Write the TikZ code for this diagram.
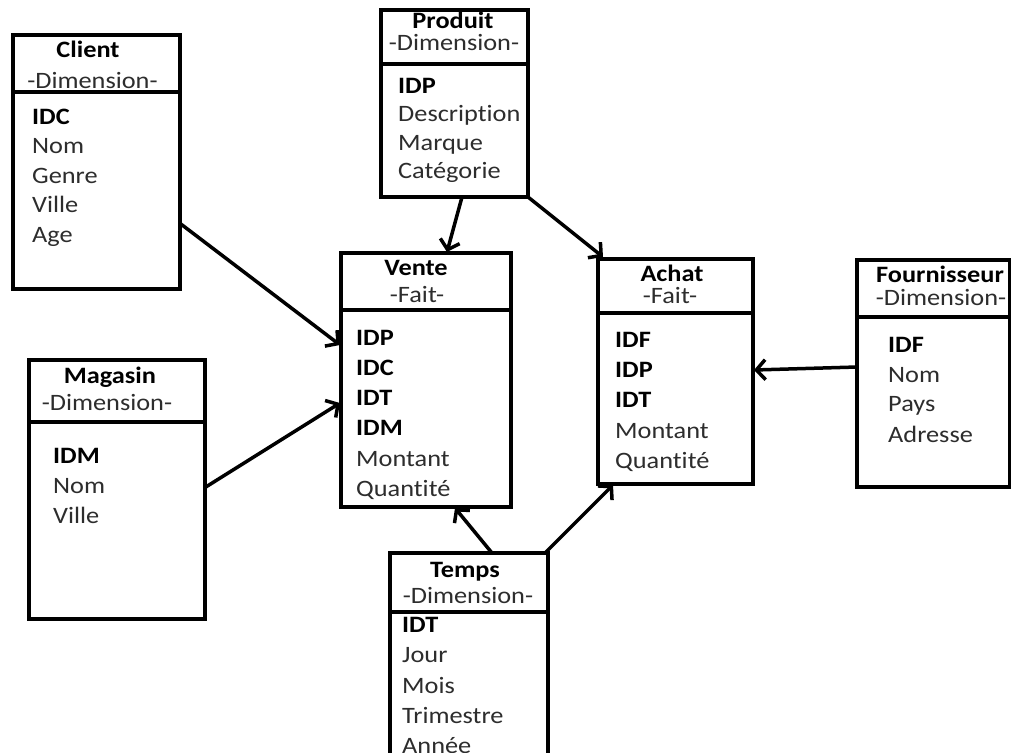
\documentclass[tikz,border=0pt]{standalone}
\usepackage{fontspec}
\setmainfont{Carlito}[FakeStretch=1.12,Ligatures={NoCommon,NoRequired,NoContextual}]
\usetikzlibrary{arrows.meta,calc}
\definecolor{txt}{RGB}{45,45,45}
\begin{document}
\begin{tikzpicture}[x=1pt,y=-1pt,
  box/.style={draw=black,line width=4pt,rectangle,inner sep=0pt,outer sep=0pt},
  divline/.style={line width=4pt},
  lbl/.style={anchor=base west,inner sep=0pt,text=txt,font=\fontsize{23.5}{28}\selectfont},
  key/.style={anchor=base west,inner sep=0pt,text=black,font=\fontsize{23.5}{28}\selectfont\bfseries},
  ttl/.style={anchor=base,inner sep=0pt,text=black,font=\fontsize{23.5}{28}\selectfont\bfseries},
  sub/.style={anchor=base,inner sep=0pt,text=txt,font=\fontsize{23.5}{28}\selectfont},
  link/.style={line width=3.5pt,-{Straight Barb[length=9pt,width=20pt]}}
]
\useasboundingbox (0,0) rectangle (1011,752);
\clip (0,0) rectangle (1011,752);
\fill[white] (0,0) rectangle (1011,752);

% boxes
\node[box,minimum width=167pt,minimum height=254pt] (client) at (96,162) {};
\node[box,minimum width=147pt,minimum height=187pt] (produit) at (454.5,103.5) {};
\node[box,minimum width=170pt,minimum height=254pt] (vente) at (426,380) {};
\node[box,minimum width=155pt,minimum height=225pt] (achat) at (675.5,371.5) {};
\node[box,minimum width=153pt,minimum height=227pt] (fourn) at (933.5,373.5) {};
\node[box,minimum width=176.5pt,minimum height=259pt] (magasin) at (116.75,489.5) {};
\node[box,minimum width=158pt,minimum height=227pt] (temps) at (469,666.5) {};

% dividers
\draw[divline] ($(client.north west)+(0,57)$) -- ($(client.north east)+(0,57)$);
\draw[divline] ($(produit.north west)+(0,54)$) -- ($(produit.north east)+(0,54)$);
\draw[divline] ($(vente.north west)+(0,57)$) -- ($(vente.north east)+(0,57)$);
\draw[divline] ($(achat.north west)+(0,54)$) -- ($(achat.north east)+(0,54)$);
\draw[divline] ($(fourn.north west)+(0,57)$) -- ($(fourn.north east)+(0,57)$);
\draw[divline] ($(magasin.north west)+(0,62)$) -- ($(magasin.north east)+(0,62)$);
\draw[divline] ($(temps.north west)+(0,59)$) -- ($(temps.north east)+(0,59)$);

% Client
\node[ttl] (client-t) at (88,57) {Client};
\node[sub] (client-s) at (92.5,88) {-Dimension-};
\node[key] (client-1) at (32,124) {IDC};
\node[lbl] (client-2) at (32,153.5) {Nom};
\node[lbl] (client-3) at (32,183) {Genre};
\node[lbl] (client-4) at (32,212.5) {Ville};
\node[lbl] (client-5) at (32,242) {Age};

% Produit
\node[ttl] (produit-t) at (453,29) {Produit};
\node[sub] (produit-s) at (454,51) {-Dimension-};
\node[key] (produit-1) at (398,93) {IDP};
\node[lbl] (produit-2) at (398,121.5) {Description};
\node[lbl] (produit-3) at (398,150) {Marque};
\node[lbl] (produit-4) at (398,178) {Catégorie};

% Vente
\node[ttl] (vente-t) at (416,275) {Vente};
\node[sub] (vente-s) at (417,302) {-Fait-};
\node[key] (vente-1) at (356,345) {IDP};
\node[key] (vente-2) at (356,375) {IDC};
\node[key] (vente-3) at (356,405) {IDT};
\node[key] (vente-4) at (356,435) {IDM};
\node[lbl] (vente-5) at (356,466) {Montant};
\node[lbl] (vente-6) at (356,496) {Quantité};

% Achat
\node[ttl] (achat-t) at (672,281) {Achat};
\node[sub] (achat-s) at (670,303) {-Fait-};
\node[key] (achat-1) at (615,347) {IDF};
\node[key] (achat-2) at (615,377) {IDP};
\node[key] (achat-3) at (615,407) {IDT};
\node[lbl] (achat-4) at (615,438) {Montant};
\node[lbl] (achat-5) at (615,468) {Quantité};

% Fournisseur
\node[ttl] (fourn-t) at (940,282) {Fournisseur};
\node[sub] (fourn-s) at (941,305) {-Dimension-};
\node[key] (fourn-1) at (888,352) {IDF};
\node[lbl] (fourn-2) at (888,382) {Nom};
\node[lbl] (fourn-3) at (888,411) {Pays};
\node[lbl] (fourn-4) at (888,442) {Adresse};

% Magasin
\node[ttl] (magasin-t) at (110,383) {Magasin};
\node[sub] (magasin-s) at (107,410) {-Dimension-};
\node[key] (magasin-1) at (53,463) {IDM};
\node[lbl] (magasin-2) at (53,493) {Nom};
\node[lbl] (magasin-3) at (53,523) {Ville};

% Temps
\node[ttl] (temps-t) at (465,577) {Temps};
\node[sub] (temps-s) at (468,603) {-Dimension-};
\node[key] (temps-1) at (402,632) {IDT};
\node[lbl] (temps-2) at (402,662) {Jour};
\node[lbl] (temps-3) at (402,693) {Mois};
\node[lbl] (temps-4) at (402,723) {Trimestre};
\node[lbl] (temps-5) at (402,753) {Année};

% connectors
\draw[link] ($(client.east)+(0,61)$) -- ($(vente.west)+(-1,-35)$);
\draw[link] ($(magasin.east)+(0,-2)$) -- ($(vente.west)+(-1,23)$);
\draw[link] ($(produit.south)+(7.5,0)$) -- ($(vente.north)+(21,-1)$);
\draw[link] (produit.south east) -- ($(achat.north west)+(5,-2)$);
\draw[link] ($(fourn.west)+(0,-6.5)$) -- ($(achat.east)+(1,-1.5)$);
\draw[link] ($(temps.north)+(23,0)$) -- ($(vente.south)+(29,1)$);
\draw[link] ($(temps.north east)+(-3,0)$) -- ($(achat.south)+(-62.5,1)$);
\end{tikzpicture}
\end{document}
